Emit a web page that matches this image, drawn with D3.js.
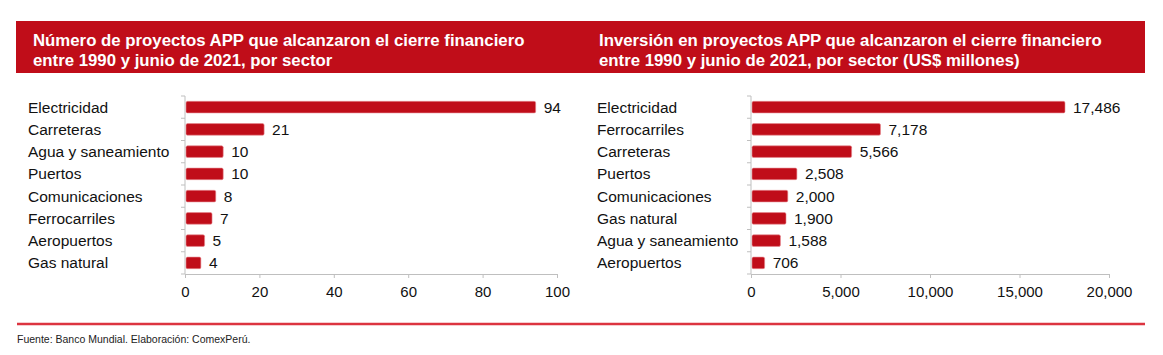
<!DOCTYPE html>
<html><head><meta charset="utf-8">
<script src="https://cdn.jsdelivr.net/npm/d3@7"></script>
<style>
body{margin:0;background:#fff;}
svg{display:block;font-family:"Liberation Sans",Arial,sans-serif;}
</style></head>
<body><svg id="c" width="1163" height="355"></svg>
<script>
const leftTitle = ["Número de proyectos APP que alcanzaron el cierre financiero","entre 1990 y junio de 2021, por sector"];
const rightTitle = ["Inversión en proyectos APP que alcanzaron el cierre financiero","entre 1990 y junio de 2021, por sector (US$ millones)"];
const leftCategories = ["Electricidad","Carreteras","Agua y saneamiento","Puertos","Comunicaciones","Ferrocarriles","Aeropuertos","Gas natural"];
const leftValues = [94,21,10,10,8,7,5,4];
const leftTicks = [0,20,40,60,80,100];
const rightCategories = ["Electricidad","Ferrocarriles","Carreteras","Puertos","Comunicaciones","Gas natural","Agua y saneamiento","Aeropuertos"];
const rightValues = [17486,7178,5566,2508,2000,1900,1588,706];
const rightTicks = [0,5000,10000,15000,20000];
const source = "Fuente: Banco Mundial. Elaboración: ComexPerú.";

const svg = d3.select("#c");
const RED = "#c00d19";
const fmt = d3.format(",");
const FS = "15.5px";

// header band
svg.append("rect").attr("x",16).attr("y",21).attr("width",1129).attr("height",52).attr("fill",RED);

function title(lines,x){
  const t = svg.append("text").attr("x",x).attr("y",46).attr("fill","#fff")
    .attr("font-size","16.8px").attr("font-weight","bold");
  lines.forEach((l,i)=>t.append("tspan").attr("x",x).attr("dy",i?19.5:0).text(l));
}
title(leftTitle,33);
title(rightTitle,599);

function panel(cats,vals,ticks,labelX,x0,x1,dmax){
  const x = d3.scaleLinear().domain([0,dmax]).range([x0,x1]);
  const y = d3.scaleBand().domain(cats).range([96,274]).paddingInner(0.48).paddingOuter(0.24);
  const g = svg.append("g");
  g.append("line").attr("x1",x0).attr("x2",x0).attr("y1",96).attr("y2",274).attr("stroke","#bfbfbf");
  d3.range(cats.length+1).forEach(i=>{
    const yy = 96 + i*(178/cats.length);
    g.append("line").attr("x1",x0-4).attr("x2",x0).attr("y1",yy).attr("y2",yy).attr("stroke","#bfbfbf");
  });
  const ax = g.append("g").attr("transform","translate(0,274)")
    .call(d3.axisBottom(x).tickValues(ticks).tickFormat(fmt).tickSize(4).tickPadding(8));
  ax.select(".domain").attr("stroke","#bfbfbf");
  ax.selectAll(".tick line").attr("stroke","#bfbfbf");
  ax.selectAll("text").attr("font-size","15px").attr("fill","#111").attr("font-family","Liberation Sans, Arial, sans-serif");
  g.selectAll("rect.b").data(vals).join("rect").attr("class","b")
    .attr("x",x0+1).attr("y",(d,i)=>y(cats[i])).attr("height",y.bandwidth())
    .attr("width",d=>x(d)-x0).attr("fill",RED).attr("rx",1.5)
    .attr("stroke","#e88a90").attr("stroke-width",0.6);
  g.selectAll("text.v").data(vals).join("text").attr("class","v")
    .attr("x",d=>x(d)+9).attr("y",(d,i)=>y(cats[i])+y.bandwidth()/2+5.5)
    .attr("font-size",FS).attr("fill","#111").text(d=>fmt(d));
  g.selectAll("text.c").data(cats).join("text").attr("class","c")
    .attr("x",labelX).attr("y",d=>y(d)+y.bandwidth()/2+5.5)
    .attr("font-size",FS).attr("fill","#111").text(d=>d);
}
panel(leftCategories,leftValues,leftTicks,28,185,557,100);
panel(rightCategories,rightValues,rightTicks,597,751,1109,20000);

svg.append("line").attr("x1",17).attr("x2",1145).attr("y1",324).attr("y2",324)
  .attr("stroke","#dc3440").attr("stroke-width",2.5);
svg.append("text").attr("x",17).attr("y",343).attr("font-size","10.5px").attr("fill","#222").text(source);
</script></body></html>
